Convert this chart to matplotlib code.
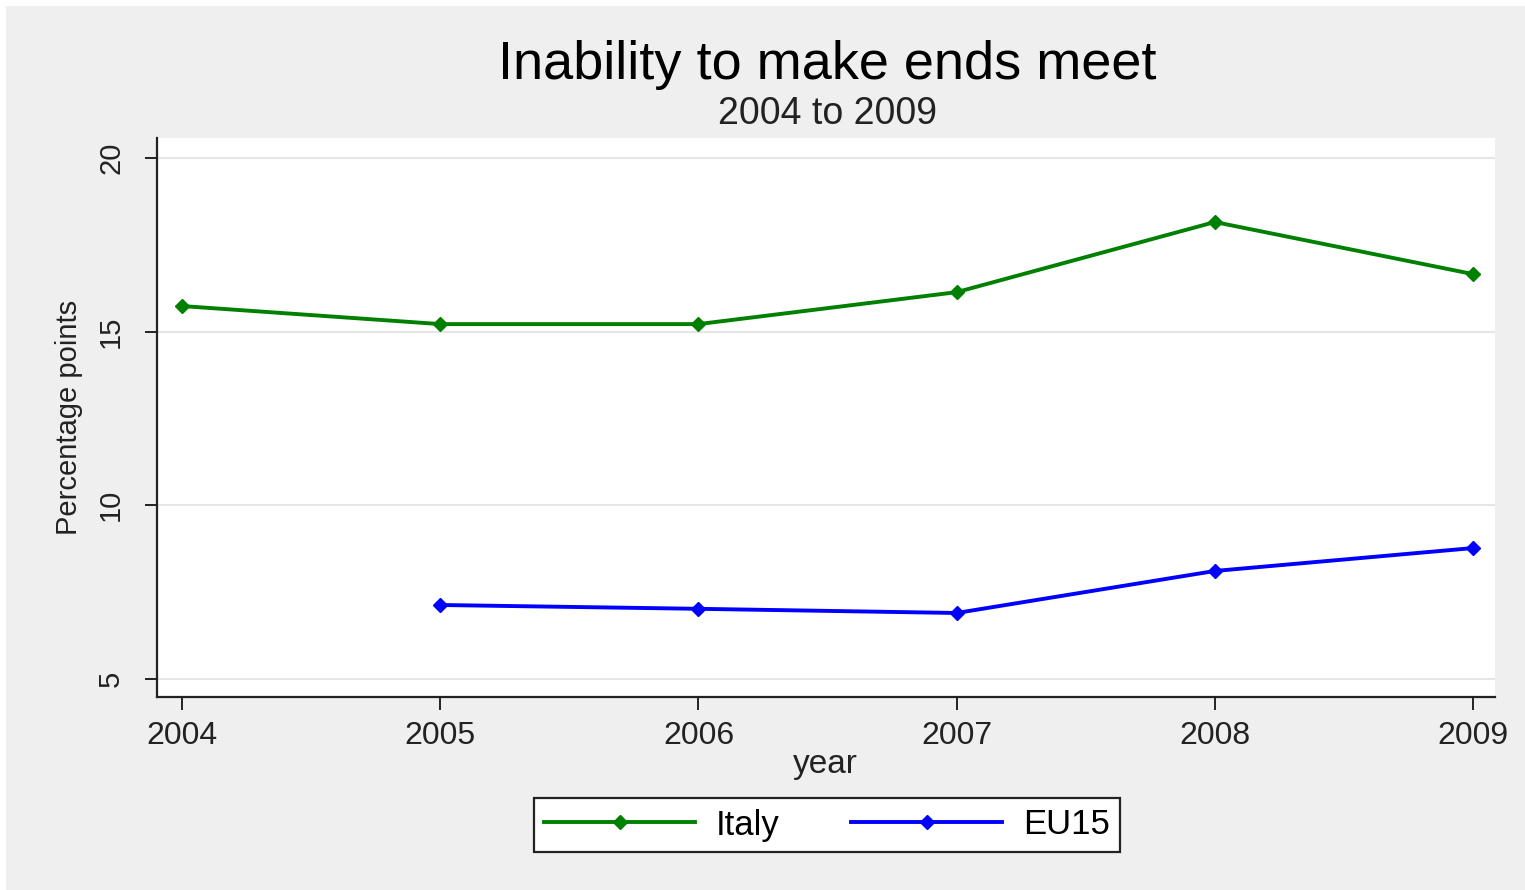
import numpy as np
import matplotlib
matplotlib.use("Agg")
import matplotlib.pyplot as plt
from matplotlib.patches import Rectangle

plt.rcParams['font.family'] = ['Liberation Sans', 'DejaVu Sans']

years = [2004, 2005, 2006, 2007, 2008, 2009]
italy = [15.74, 15.22, 15.22, 16.14, 18.16, 16.66]
eu15_years = [2005, 2006, 2007, 2008, 2009]
eu15 = [7.13, 7.02, 6.90, 8.11, 8.77]
yticks = [5, 10, 15, 20]

W, H = 1525, 890
fig = plt.figure(figsize=(W / 100, H / 100), dpi=100, facecolor='white')

# grey graph region, with a thin white margin on top and left
fig.patches.append(Rectangle((6 / W, 0), 1 - 6 / W, 1 - 6 / H,
                             transform=fig.transFigure, facecolor='#efefef',
                             edgecolor='none', zorder=-10))

ax = fig.add_axes([157 / W, 1 - 697 / H, 1338 / W, 559 / H])
ax.set_facecolor('white')

ax.plot(years, italy, color='#008000', lw=2.8, marker='D', ms=7, label='Italy')
ax.plot(eu15_years, eu15, color='#0000ff', lw=2.8, marker='D', ms=7, label='EU15')

ax.set_xlim(2003.903, 2009.085)
ax.set_ylim(4.48, 20.58)
ax.set_xticks(years)
ax.set_yticks(yticks)
ax.set_yticklabels([str(v) for v in yticks], rotation=90, va='center')

for s in ['top', 'right']:
    ax.spines[s].set_visible(False)
for s in ['left', 'bottom']:
    ax.spines[s].set_linewidth(1.6)
    ax.spines[s].set_color('#222222')

ax.tick_params(axis='x', length=9, width=1.4, pad=8, labelsize=23,
               colors='#222222')
ax.tick_params(axis='y', length=9, width=1.4, pad=14, labelsize=21,
               colors='#222222')
ax.grid(axis='y', color='#e6e6e6', lw=1.5)
ax.set_axisbelow(True)

ax.set_ylabel('Percentage points', fontsize=21, color='#222222', labelpad=10)

fig.text(827 / W, 1 - 79 / H, 'Inability to make ends meet', ha='center',
         va='baseline', fontsize=39, color='black')
fig.text(827 / W, 1 - 124 / H, '2004 to 2009', ha='center', va='baseline',
         fontsize=27, color='#222222')
fig.text(825 / W, 1 - 773 / H, 'year', ha='center', va='baseline',
         fontsize=24, color='#222222')

leg = fig.legend(loc='center', bbox_to_anchor=(827 / W, 1 - 825 / H),
                 ncol=2, fontsize=25, handlelength=4.35, handletextpad=0.6,
                 columnspacing=2.05, fancybox=False, framealpha=1,
                 edgecolor='#222222', borderpad=0.3)
leg.get_frame().set_linewidth(1.6)

fig.savefig('out.png', dpi=100, facecolor=fig.get_facecolor())
